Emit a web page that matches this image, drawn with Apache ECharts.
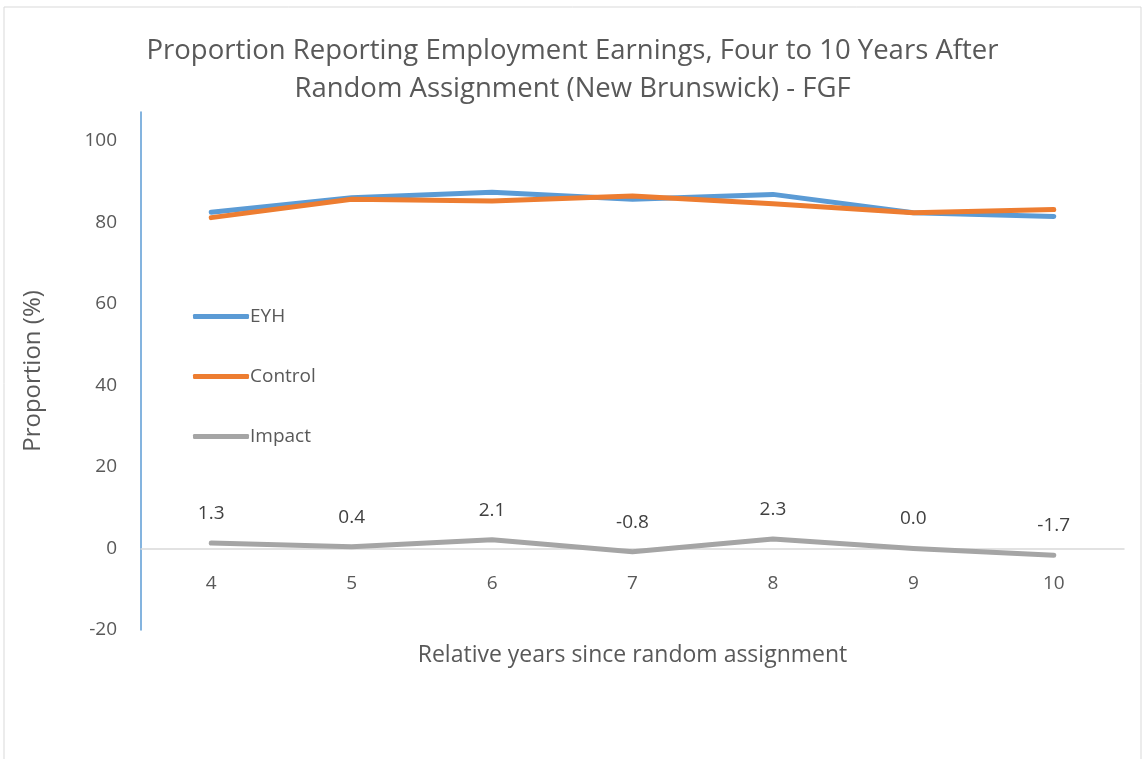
<!DOCTYPE html>
<html>
<head>
<meta charset="utf-8">
<script src="https://cdn.jsdelivr.net/npm/echarts@6/dist/echarts.min.js"></script>
<style>
  html, body { margin: 0; padding: 0; background: #fff; }
  #main { width: 1145px; height: 759px; }
</style>
</head>
<body>
<div id="main"></div>
<script>
// years since random assignment
var years = ['4', '5', '6', '7', '8', '9', '10'];
var eyh = [82.4, 86.0, 87.3, 85.6, 86.8, 82.3, 81.4];
var control = [81.1, 85.6, 85.2, 86.4, 84.5, 82.3, 83.1];
var impact = [1.3, 0.4, 2.1, -0.8, 2.3, 0.0, -1.7];

var FONT = 'Open Sans';
var GREY_TXT = '#595959';

var myChart = echarts.init(document.getElementById('main'));
var option = {
    backgroundColor: '#fff',
    textStyle: { fontFamily: FONT },
    title: {
        text: 'Proportion Reporting Employment Earnings, Four to 10 Years After\nRandom Assignment (New Brunswick) - FGF',
        left: 'center',
        top: 27,
        textStyle: {
            fontFamily: FONT,
            fontSize: 27.5,
            fontWeight: 'normal',
            color: GREY_TXT,
            lineHeight: 38
        }
    },
    graphic: [{
        type: 'rect',
        shape: { x: 4, y: 7, width: 1137, height: 770 },
        style: { fill: 'none', stroke: '#D9D9D9', lineWidth: 1 },
        silent: true
    }],
    legend: {
        orient: 'vertical',
        left: 188,
        top: 302,
        itemGap: 41,
        itemWidth: 56,
        itemHeight: 5,
        icon: 'roundRect',
        textStyle: { fontFamily: FONT, fontSize: 19, color: GREY_TXT, padding: [0, 0, 0, -4] },
        data: ['EYH', 'Control', 'Impact']
    },
    grid: {
        left: 141,
        right: 21,
        top: 112,
        bottom: 129,
        containLabel: false
    },
    xAxis: {
        type: 'category',
        data: years,
        boundaryGap: true,
        name: 'Relative years since random assignment',
        nameLocation: 'middle',
        nameGap: 14,
        nameTextStyle: { fontFamily: FONT, fontSize: 23, color: GREY_TXT },
        axisLine: { onZero: true, lineStyle: { color: '#D9D9D9', width: 1.5 } },
        axisTick: { show: false },
        axisLabel: { margin: -56, fontFamily: FONT, fontSize: 19, color: GREY_TXT },
        splitLine: { show: false }
    },
    yAxis: {
        type: 'value',
        min: -20,
        max: 107,
        interval: 20,
        name: 'Proportion (%)',
        nameLocation: 'middle',
        nameGap: 96,
        nameRotate: 90,
        nameTextStyle: { fontFamily: FONT, fontSize: 24, color: GREY_TXT },
        axisLine: { show: true, lineStyle: { color: '#5B9BD5', width: 1.5 } },
        axisTick: { show: false },
        axisLabel: {
            margin: 24,
            fontFamily: FONT,
            fontSize: 19,
            color: GREY_TXT,
            showMaxLabel: false
        },
        splitLine: { show: false }
    },
    series: [
        {
            name: 'EYH',
            type: 'line',
            data: eyh,
            symbol: 'none',
            itemStyle: { color: '#5B9BD5' },
            lineStyle: { width: 5, cap: 'round', join: 'round' }
        },
        {
            name: 'Control',
            type: 'line',
            data: control,
            symbol: 'none',
            itemStyle: { color: '#ED7D31' },
            lineStyle: { width: 5, cap: 'round', join: 'round' }
        },
        {
            name: 'Impact',
            type: 'line',
            data: impact,
            symbol: 'circle',
            symbolSize: 0.1,
            showAllSymbol: true,
            itemStyle: { color: '#A5A5A5' },
            lineStyle: { width: 5, cap: 'round', join: 'round' },
            label: {
                show: true,
                position: 'top',
                distance: 20,
                fontFamily: FONT,
                fontSize: 19,
                color: '#404040',
                formatter: function (p) { return p.value.toFixed(1); }
            }
        }
    ]
};
myChart.setOption(option);
</script>
</body>
</html>
